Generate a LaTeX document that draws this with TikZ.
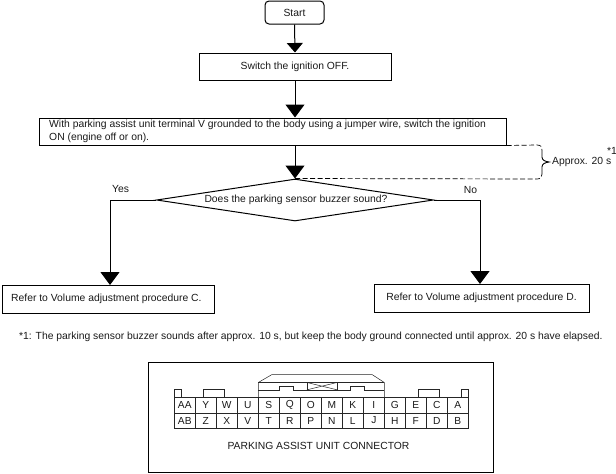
\documentclass[tikz,border=0pt]{standalone}
\usepackage{fontspec}
\setmainfont{Liberation Sans}
\usetikzlibrary{arrows.meta,shapes.geometric}
\definecolor{ink}{gray}{0.1}
\tikzset{
  x=1pt,y=-1pt,
  every node/.style={font=\fontsize{10.35}{13}\selectfont,text=ink,inner sep=0pt},
  stepbox/.style={draw=black,line width=1pt,minimum height=27pt,anchor=center},
  flow/.style={draw=black,line width=1pt,-{Triangle[length=13pt,width=19pt]}},
  smallflow/.style={draw=black,line width=1pt,-{Triangle[length=9.5pt,width=16pt]}},
  conn/.style={draw=black!85,line width=0.5pt},
  pin/.style={font=\fontsize{10.2}{12}\selectfont},
  timing/.style={line width=0.7pt,dash pattern=on 5pt off 2.5pt},
}
\begin{document}
\begin{tikzpicture}
\useasboundingbox (0,0) rectangle (616,474);
% flow nodes
\node[stepbox,rounded corners=4pt,minimum width=59pt,minimum height=23pt] (start) at (294.5,12.5) {Start};
\node[stepbox,minimum width=192pt] (off) at (295,66.5) {Switch the ignition OFF.};
\node[stepbox,minimum width=467pt] (on) at (272.5,131.5) {};
\node[anchor=west,align=left] (ontext) at (49,131.5) {With parking assist unit terminal V grounded to the body using a jumper wire, switch the ignition\\ON (engine off or on).};
\node[draw=black,line width=1pt,diamond,aspect=6.55,minimum width=277pt,minimum height=42pt] (q) at (295,200) {};
\node (qtext) at (296,199.5) {Does the parking sensor buzzer sound?};
\node[stepbox,minimum width=212pt,minimum height=28pt] (c) at (108,299) {};
\node[anchor=west] (ctext) at (11,298.5) {Refer to Volume adjustment procedure C.};
\node[stepbox,minimum width=215pt,minimum height=28pt] (d) at (481.5,298) {Refer to Volume adjustment procedure D.};
% arrows
\coordinate (cin) at (110,285);
\coordinate (din) at (480,284);
\draw[smallflow] (start.south) -- (off.north);
\draw[flow] (off.south) -- (off.south |- on.north);
\draw[flow] (off.south |- on.south) -- (q.north);
\draw[flow] (q.west) -| (cin);
\draw[flow] (q.east) -| (din);
\node (yes) at (120.5,189) {Yes};
\node (no) at (470.5,189.5) {No};
% timing bracket
\coordinate (t1) at (on.south east);
\coordinate (t2) at (q.north);
\draw[timing] (t1) -- (537,145) .. controls (541,145) and (542,147) .. (542,150);
\draw[timing] (t2) -- (537,179) .. controls (541,179) and (542,177) .. (542,174);
\draw[line width=0.9pt] (542,150) -- (542,157) .. controls (542,160) and (545,161.5) .. (549,162) .. controls (545,162.5) and (542,164) .. (542,167) -- (542,174);
\node[anchor=west] (approx) at (552,162) {Approx. 20 s};
\node[anchor=west] (star) at (607,151) {*1};
% footnote
\node[anchor=west] (foot) at (19,336.5) {*1: The parking sensor buzzer sounds after approx. 10 s, but keep the body ground connected until approx. 20 s have elapsed.};
% connector
\node[draw=black,line width=1pt,minimum width=345pt,minimum height=110pt] (frame) at (321,417) {};
\draw[conn] (174.3,397.3) rectangle (468.3,428);
\draw[conn] (174.3,413) -- (468.3,413);
\foreach \i in {1,...,13} \draw[conn] ({174.3+21*\i},397.3) -- ({174.3+21*\i},428);
\foreach \i/\a/\b in {0/AA/AB,1/Y/Z,2/W/X,3/U/V,4/S/T,5/Q/R,6/O/P,7/M/N,8/K/L,9/I/J,10/G/H,11/E/F,12/C/D,13/A/B}{
  \node[pin] (up\i) at ({184.8+21*\i},405) {\a};
  \node[pin] (lo\i) at ({184.8+21*\i},420.5) {\b};
}
\draw[conn] (174.3,397.3) |- (181,389.5) -- (181,397.3);
\draw[conn] (203.3,397.3) |- (224.3,389.5) -- (224.3,397.3);
\draw[conn] (418.3,397.3) |- (439.3,389.5) -- (439.3,397.3);
\draw[conn] (461.7,397.3) |- (468.3,389.5) -- (468.3,397.3);
\draw[conn] (258.3,397.3) -- (258.3,382.5) -- (272,374.5) -- (372,374.5) -- (384.3,382.5) -- (384.3,397.3);
\draw[conn] (258.3,389.8) -- (279,389.8) -- (279,386.5) -- (293,386.5) -- (293,389.8) -- (350,389.8) -- (350,386.5) -- (364,386.5) -- (364,389.8) -- (384.3,389.8);
\draw[conn] (258.3,382.5) -- (384.3,382.5);
\draw[conn] (307,382.5) -- (307,389.8) (337,382.5) -- (337,389.8);
\draw[conn] (307,382.5) -- (337,389.8) (337,382.5) -- (307,389.8);
\node (conname) at (318.5,446) {PARKING ASSIST UNIT CONNECTOR};
\end{tikzpicture}
\end{document}
